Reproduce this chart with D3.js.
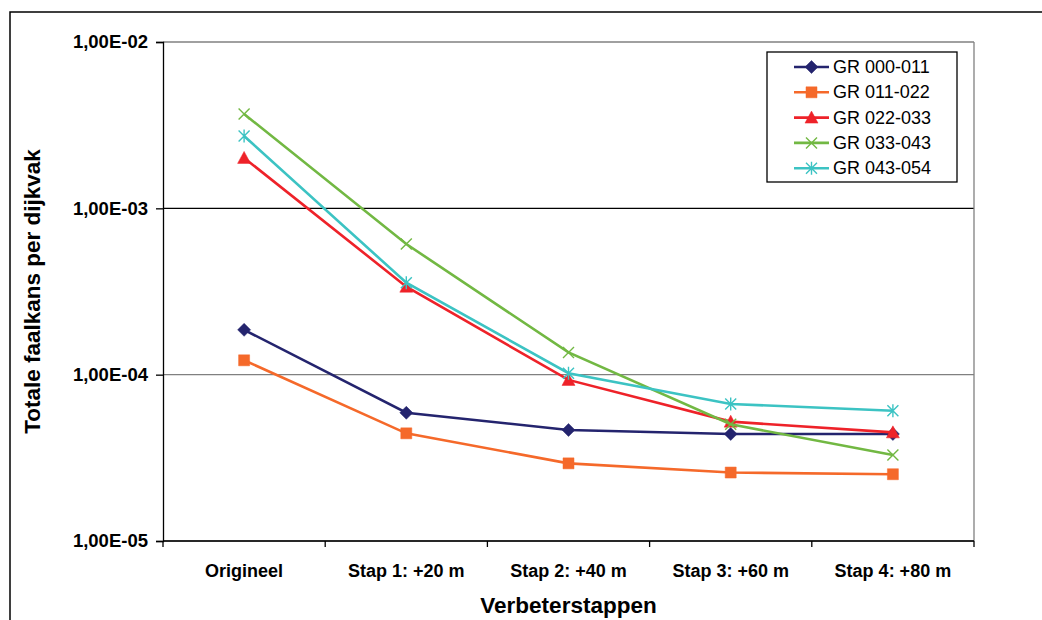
<!DOCTYPE html>
<html>
<head>
<meta charset="utf-8">
<script src="https://cdn.jsdelivr.net/npm/d3@7"></script>
<style>
  body { margin: 0; background: #fff; }
  svg { display: block; font-family: "Liberation Sans", Arial, sans-serif; }
</style>
</head>
<body>
<svg id="chart" width="1042" height="620"></svg>
<script>
const categories = ["Origineel", "Stap 1: +20 m", "Stap 2: +40 m", "Stap 3: +60 m", "Stap 4: +80 m"];
const seriesNames = ["GR 000-011", "GR 011-022", "GR 022-033", "GR 033-043", "GR 043-054"];
const gr000 = [1.86e-4, 5.9e-5, 4.65e-5, 4.4e-5, 4.4e-5];
const gr011 = [1.22e-4, 4.44e-5, 2.93e-5, 2.58e-5, 2.52e-5];
const gr022 = [2.01e-3, 3.38e-4, 9.3e-5, 5.22e-5, 4.5e-5];
const gr033 = [3.69e-3, 6.1e-4, 1.36e-4, 5.03e-5, 3.29e-5];
const gr043 = [2.72e-3, 3.57e-4, 1.02e-4, 6.66e-5, 6.07e-5];
const yTicks = [1e-2, 1e-3, 1e-4, 1e-5];

const colors = ["#24246e", "#f5692a", "#ee2229", "#72b843", "#3cc3c3"];
const markers = ["diamond", "square", "triangle", "x", "star"];
const allSeries = [gr000, gr011, gr022, gr033, gr043];

const svg = d3.select("#chart");
const width = 1042, height = 620;
const plot = { left: 163, right: 974, top: 42, bottom: 541 };

// outer chart frame (cut off at right and bottom)
svg.append("rect")
  .attr("x", 10).attr("y", 12)
  .attr("width", 1200).attr("height", 800)
  .attr("fill", "#fff")
  .attr("stroke", "#000")
  .attr("stroke-width", 1.5);

const x = d3.scaleBand().domain(categories).range([plot.left, plot.right]).padding(0);
const y = d3.scaleLog().domain([1e-5, 1e-2]).range([plot.bottom, plot.top]);
const cx = (c) => x(c) + x.bandwidth() / 2;

// gridlines
svg.append("g")
  .selectAll("line")
  .data(yTicks)
  .enter()
  .append("line")
  .attr("x1", plot.left).attr("x2", plot.right)
  .attr("y1", (d) => y(d)).attr("y2", (d) => y(d))
  .attr("stroke", (d) => (d === 1e-3 ? "#000" : "#808080"))
  .attr("stroke-width", 1.3);

// right border of plot area
svg.append("line")
  .attr("x1", plot.right).attr("x2", plot.right)
  .attr("y1", plot.top).attr("y2", plot.bottom)
  .attr("stroke", "#808080")
  .attr("stroke-width", 1.3);

// y axis
const yAxis = d3.axisLeft(y)
  .tickValues(yTicks)
  .tickSize(7)
  .tickPadding(8)
  .tickFormat((d) => "1,00E-" + String(Math.round(-Math.log10(d))).padStart(2, "0"));

const gy = svg.append("g")
  .attr("transform", `translate(${plot.left},0)`)
  .call(yAxis);
gy.select(".domain").attr("stroke", "#000").attr("stroke-width", 1.3);
gy.selectAll(".tick line").attr("stroke", "#000").attr("stroke-width", 1.3);
gy.selectAll(".tick text")
  .attr("font-size", 18.5)
  .attr("font-weight", "bold")
  .attr("fill", "#000")
  .attr("font-family", "Liberation Sans, Arial, sans-serif");

// x axis
svg.append("line")
  .attr("x1", plot.left).attr("x2", plot.right)
  .attr("y1", plot.bottom).attr("y2", plot.bottom)
  .attr("stroke", "#000").attr("stroke-width", 1.3);

const edges = categories.map((c) => x(c)).concat([x(categories[categories.length - 1]) + x.bandwidth()]);
svg.append("g")
  .selectAll("line")
  .data(edges)
  .enter()
  .append("line")
  .attr("x1", (d) => d).attr("x2", (d) => d)
  .attr("y1", plot.bottom).attr("y2", plot.bottom + 6)
  .attr("stroke", "#000").attr("stroke-width", 1.3);

svg.append("g")
  .selectAll("text")
  .data(categories)
  .enter()
  .append("text")
  .attr("x", (d) => cx(d))
  .attr("y", 577)
  .attr("text-anchor", "middle")
  .attr("font-size", 18)
  .attr("font-weight", "bold")
  .text((d) => d);

// axis titles
svg.append("text")
  .attr("x", (plot.left + plot.right) / 2)
  .attr("y", 613)
  .attr("text-anchor", "middle")
  .attr("font-size", 22.5)
  .attr("font-weight", "bold")
  .text("Verbeterstappen");

svg.append("text")
  .attr("transform", `translate(40, ${(plot.top + plot.bottom) / 2}) rotate(-90)`)
  .attr("text-anchor", "middle")
  .attr("font-size", 22.5)
  .attr("font-weight", "bold")
  .text("Totale faalkans per dijkvak");

// marker shapes
const markerPath = (type, s) => {
  const h = s / 2;
  switch (type) {
    case "diamond":
      return `M0,${-h - 1}L${h + 1},0L0,${h + 1}L${-h - 1},0Z`;
    case "square":
      return `M${-h},${-h}H${h}V${h}H${-h}Z`;
    case "triangle":
      return `M0,${-h - 1}L${h + 1},${h}L${-h - 1},${h}Z`;
    case "x":
      return `M${-h},${-h}L${h},${h}M${-h},${h}L${h},${-h}`;
    default:
      return `M${-h},${-h}L${h},${h}M${-h},${h}L${h},${-h}M0,${-h - 1}V${h + 1}`;
  }
};

const line = d3.line()
  .x((d, i) => cx(categories[i]))
  .y((d) => y(d));

allSeries.forEach((values, si) => {
  const g = svg.append("g");
  g.append("path")
    .datum(values)
    .attr("d", line)
    .attr("fill", "none")
    .attr("stroke", colors[si])
    .attr("stroke-width", 2.6);

  const filled = si < 3;
  g.selectAll("path.marker")
    .data(values)
    .enter()
    .append("path")
    .attr("class", "marker")
    .attr("transform", (d, i) => `translate(${cx(categories[i])},${y(d)})`)
    .attr("d", markerPath(markers[si], 11))
    .attr("fill", filled ? colors[si] : "none")
    .attr("stroke", colors[si])
    .attr("stroke-width", filled ? 0.5 : 1.4);
});

// legend
const legend = svg.append("g").attr("transform", "translate(767,52)");
legend.append("rect")
  .attr("width", 190).attr("height", 130)
  .attr("fill", "#fff")
  .attr("stroke", "#000")
  .attr("stroke-width", 1.3);

const items = legend.selectAll("g.legend-item")
  .data(seriesNames)
  .enter()
  .append("g")
  .attr("class", "legend-item")
  .attr("transform", (d, i) => `translate(0, ${15 + i * 25.3})`);

items.append("line")
  .attr("x1", 27).attr("x2", 62)
  .attr("stroke", (d, i) => colors[i])
  .attr("stroke-width", 2.6);

items.append("path")
  .attr("transform", "translate(44.5,0)")
  .attr("d", (d, i) => markerPath(markers[i], 11))
  .attr("fill", (d, i) => (i < 3 ? colors[i] : "none"))
  .attr("stroke", (d, i) => colors[i])
  .attr("stroke-width", (d, i) => (i < 3 ? 0.5 : 1.4));

items.append("text")
  .attr("x", 66)
  .attr("y", 6)
  .attr("font-size", 18)
  .text((d) => d);
</script>
</body>
</html>
